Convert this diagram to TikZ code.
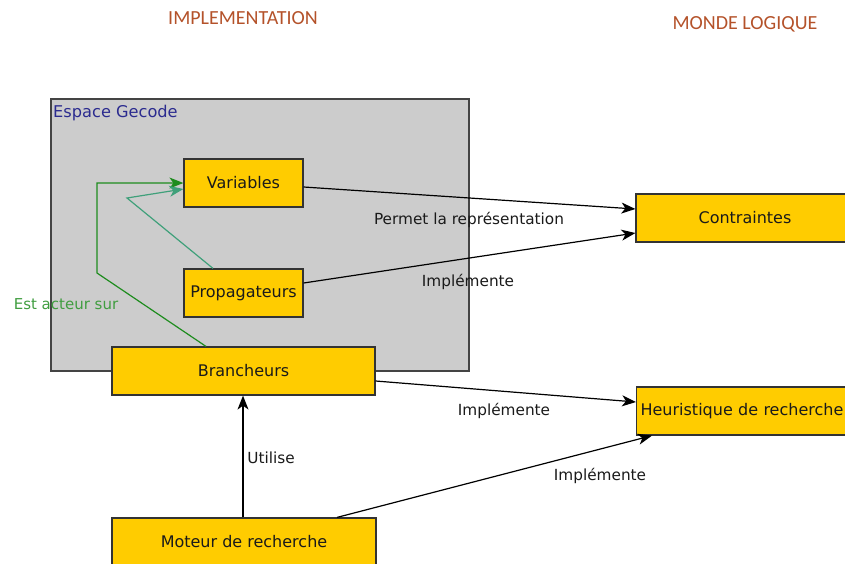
\documentclass[tikz,border=0pt]{standalone}
\usepackage{fontspec}
\setmainfont{DejaVu Sans}
\newfontfamily\headfont{Carlito}
\usetikzlibrary{arrows.meta}
\definecolor{boxyellow}{HTML}{FFCC00}
\definecolor{boxline}{HTML}{333333}
\definecolor{spacegray}{HTML}{CCCCCC}
\definecolor{spaceline}{HTML}{444444}
\definecolor{headred}{HTML}{B4522A}
\definecolor{navytext}{HTML}{2B2B8F}
\definecolor{actgreen}{HTML}{1E8C1E}
\definecolor{actteal}{HTML}{3FA07A}
\definecolor{labeltext}{HTML}{1A1A1A}
\tikzset{
  ybox/.style={draw=boxline, line width=1.2pt, fill=boxyellow, minimum height=48pt,
    inner sep=0pt, font=\fontsize{16}{18}\selectfont, text=labeltext},
  lbl/.style={font=\fontsize{15.3}{17}\selectfont, text=labeltext, inner sep=0pt},
  head/.style={font=\headfont\fontsize{20}{22}\selectfont, text=headred, inner sep=0pt},
  tip/.style={-{Stealth[length=14pt,width=11pt,inset=4pt]}},
  link/.style={draw=black, line width=1.2pt, tip},
}
\begin{document}
\begin{tikzpicture}[x=1pt,y=-1pt]
\useasboundingbox (0,0) rectangle (845,563);
\clip (0,0) rectangle (845,563);

% Gecode space
\node[draw=spaceline, line width=1.4pt, fill=spacegray, minimum width=418pt, minimum height=272pt,
  inner sep=0pt] (space) at (260,235) {};
\node[anchor=west, font=\fontsize{16.2}{18}\selectfont, text=navytext, inner sep=0pt] (spacename) at (53,113) {Espace Gecode};

% headers
\node[head] (himpl) at (243,18) {IMPLEMENTATION};
\node[head] (hlog) at (745,24) {MONDE LOGIQUE};

% implementation boxes
\node[ybox, minimum width=119pt] (var) at (243.5,183) {Variables};
\node[ybox, minimum width=119pt] (prop) at (243.5,293) {Propagateurs};
\node[ybox, minimum width=263pt] (bran) at (243.5,371) {Brancheurs};
\node[ybox, minimum width=264pt] (mot) at (244,542) {Moteur de recherche};

% logical world boxes
\node[ybox, minimum width=218pt] (con) at (745,218) {Contraintes};
\node[ybox, anchor=west, text width=210pt, inner xsep=4pt, align=left] (heur) at (636,411) {Heuristique de recherche};

% green "acts on" links
\coordinate (g1) at (97,273);
\coordinate (g2) at (97,183);
\draw[actgreen, line width=1.2pt, tip]
  ([xshift=-37.5pt]bran.north) -- (g1) -- (g2) -- (var.west);
\coordinate (t1) at (127,198);
\draw[actteal, line width=1.2pt, tip]
  ([xshift=-30.5pt]prop.north) -- (t1) -- ([yshift=-6pt]var.west);
\node[font=\fontsize{15}{17}\selectfont, text=actgreen!85!white, inner sep=0pt] (actlbl) at (66,304) {Est acteur sur};

% black links
\draw[link] ([yshift=-4pt]var.east) -- ([yshift=9pt]con.west);
\node[lbl] (l1) at (469,220) {Permet la représentation};
\draw[link] ([yshift=10pt]prop.east) -- ([yshift=-15pt]con.west);
\node[lbl] (l2) at (468,282) {Implémente};
\draw[link] ([yshift=-10pt]bran.east) -- ([yshift=9pt]heur.west);
\node[lbl] (l3) at (504,411) {Implémente};
\draw[link] ([xshift=93pt]mot.north) -- ([xshift=16pt]heur.south west);
\node[lbl] (l4) at (600,476) {Implémente};
\draw[link] ([xshift=-1pt]mot.north) -- ([xshift=-0.5pt]bran.south);
\node[lbl] (l5) at (271,458) {Utilise};
\end{tikzpicture}
\end{document}
